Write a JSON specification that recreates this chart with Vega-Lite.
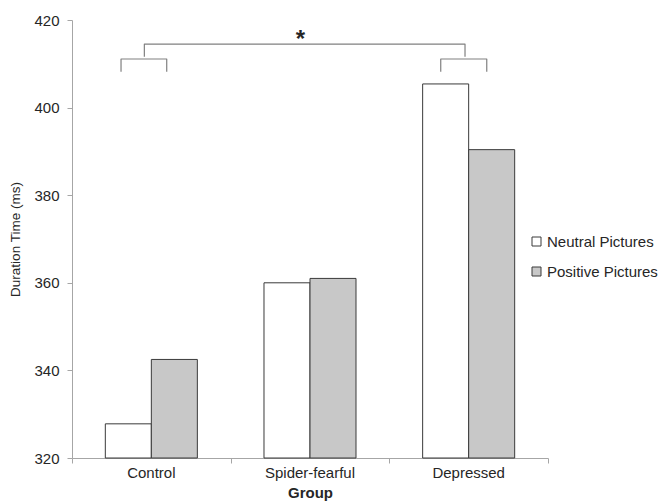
{
  "$schema": "https://vega.github.io/schema/vega-lite/v6.json",
  "width": 476,
  "height": 438,
  "autosize": "none",
  "padding": {"left": 72, "top": 20, "right": 119, "bottom": 45},
  "background": "white",
  "config": {
    "font": "Liberation Sans",
    "view": {"stroke": null},
    "axis": {"labelFont": "Liberation Sans", "titleFont": "Liberation Sans", "labelColor": "#262626", "titleColor": "#262626", "domainColor": "#a6a6a6", "tickColor": "#a6a6a6", "grid": false}
  },
  "datasets": {
    "bars": [
      {"Group": "Control", "Condition": "Neutral Pictures", "Duration": 327.8},
      {"Group": "Control", "Condition": "Positive Pictures", "Duration": 342.5},
      {"Group": "Spider-fearful", "Condition": "Neutral Pictures", "Duration": 360.0},
      {"Group": "Spider-fearful", "Condition": "Positive Pictures", "Duration": 361.0},
      {"Group": "Depressed", "Condition": "Neutral Pictures", "Duration": 405.4},
      {"Group": "Depressed", "Condition": "Positive Pictures", "Duration": 390.4}
    ],
    "brackets": [
      {"bracket": "left", "order": 1, "bx": 0.309, "by": 408.2},
      {"bracket": "left", "order": 2, "bx": 0.309, "by": 411.1},
      {"bracket": "left", "order": 3, "bx": 0.597, "by": 411.1},
      {"bracket": "left", "order": 4, "bx": 0.597, "by": 408.2},
      {"bracket": "right", "order": 1, "bx": 2.324, "by": 408.2},
      {"bracket": "right", "order": 2, "bx": 2.324, "by": 411.1},
      {"bracket": "right", "order": 3, "bx": 2.614, "by": 411.1},
      {"bracket": "right", "order": 4, "bx": 2.614, "by": 408.2},
      {"bracket": "top", "order": 1, "bx": 0.456, "by": 411.6},
      {"bracket": "top", "order": 2, "bx": 0.456, "by": 414.5},
      {"bracket": "top", "order": 3, "bx": 2.477, "by": 414.5},
      {"bracket": "top", "order": 4, "bx": 2.477, "by": 411.6}
    ],
    "stars": [
      {"label": "*", "sx": 1.44, "sy": 416.5}
    ]
  },
  "layer": [
    {
      "data": {"name": "bars"},
      "mark": {"type": "bar", "stroke": "#3a3a3a", "strokeWidth": 1},
      "encoding": {
        "x": {
          "field": "Group", "type": "nominal",
          "sort": ["Control", "Spider-fearful", "Depressed"],
          "scale": {"paddingInner": 0.42, "paddingOuter": 0.21},
          "axis": {"orient": "bottom", "title": "Group", "titleFontWeight": "bold", "titleFontSize": 15, "labelFontSize": 15, "labelAngle": 0, "ticks": false, "labelPadding": 7, "titlePadding": 5}
        },
        "xOffset": {"field": "Condition", "type": "nominal", "sort": ["Neutral Pictures", "Positive Pictures"]},
        "y": {
          "field": "Duration", "type": "quantitative",
          "scale": {"domain": [320, 420], "zero": false, "nice": false},
          "axis": {"title": "Duration Time (ms)", "titleFontWeight": "normal", "titleFontSize": 13.5, "labelFontSize": 15, "values": [320, 340, 360, 380, 400, 420], "tickSize": 5, "labelPadding": 8, "titlePadding": 11}
        },
        "y2": {"datum": 320},
        "fill": {
          "field": "Condition", "type": "nominal",
          "scale": {"domain": ["Neutral Pictures", "Positive Pictures"], "range": ["#ffffff", "#c8c8c8"]},
          "legend": {"title": null, "orient": "none", "legendX": 457, "legendY": 214, "symbolType": "square", "symbolSize": 81, "symbolStrokeColor": "#3a3a3a", "symbolStrokeWidth": 1, "labelFontSize": 15, "labelColor": "#262626", "labelFont": "Liberation Sans", "rowPadding": 14, "labelOffset": 3}
        }
      }
    },
    {
      "data": {"name": "brackets"},
      "mark": {"type": "line", "stroke": "#808080", "strokeWidth": 1.2, "strokeJoin": "round"},
      "encoding": {
        "x": {"field": "bx", "type": "quantitative", "scale": {"domain": [0, 3], "nice": false, "zero": false}, "axis": {"orient": "bottom", "values": [0, 1, 2, 3], "labels": false, "domain": false, "ticks": true, "tickSize": 5, "title": null}},
        "y": {"field": "by", "type": "quantitative"},
        "detail": {"field": "bracket"},
        "order": {"field": "order"}
      }
    },
    {
      "data": {"name": "stars"},
      "mark": {"type": "text", "fontSize": 24, "fontWeight": "bold", "color": "#262626", "baseline": "middle", "align": "center", "dy": 5},
      "encoding": {
        "x": {"field": "sx", "type": "quantitative", "scale": {"domain": [0, 3], "nice": false, "zero": false}, "axis": null},
        "y": {"field": "sy", "type": "quantitative"},
        "text": {"field": "label"}
      }
    }
  ],
  "resolve": {"scale": {"x": "independent"}, "axis": {"x": "independent"}}
}
